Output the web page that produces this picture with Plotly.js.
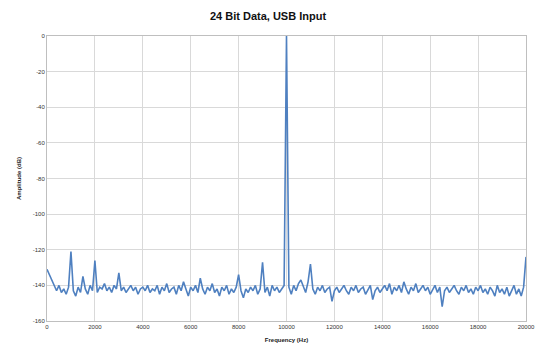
<!DOCTYPE html>
<html>
<head>
<meta charset="utf-8">
<script src="https://cdn.plot.ly/plotly-3.0.1.min.js"></script>
<style>html,body{margin:0;padding:0;background:#fff}#chart{width:536px;height:356px}</style>
</head>
<body>
<div id="chart"></div>
<script>
const frequencyHz = [
0,100,200,300,400,500,600,700,800,900,
1000,1100,1200,1300,1400,1500,1600,1700,1800,1900,
2000,2100,2200,2300,2400,2500,2600,2700,2800,2900,
3000,3100,3200,3300,3400,3500,3600,3700,3800,3900,
4000,4100,4200,4300,4400,4500,4600,4700,4800,4900,
5000,5100,5200,5300,5400,5500,5600,5700,5800,5900,
6000,6100,6200,6300,6400,6500,6600,6700,6800,6900,
7000,7100,7200,7300,7400,7500,7600,7700,7800,7900,
8000,8100,8200,8300,8400,8500,8600,8700,8800,8900,
9000,9100,9200,9300,9400,9500,9600,9700,9800,9900,
10000,10100,10200,10300,10400,10500,10600,10700,10800,10900,
11000,11100,11200,11300,11400,11500,11600,11700,11800,11900,
12000,12100,12200,12300,12400,12500,12600,12700,12800,12900,
13000,13100,13200,13300,13400,13500,13600,13700,13800,13900,
14000,14100,14200,14300,14400,14500,14600,14700,14800,14900,
15000,15100,15200,15300,15400,15500,15600,15700,15800,15900,
16000,16100,16200,16300,16400,16500,16600,16700,16800,16900,
17000,17100,17200,17300,17400,17500,17600,17700,17800,17900,
18000,18100,18200,18300,18400,18500,18600,18700,18800,18900,
19000,19100,19200,19300,19400,19500,19600,19700,19800,19900,
20000];

const amplitudeDb = [
-131,-134,-137.5,-141,-143,-140,-144,-142,-145,-141,
-121,-143,-146,-141,-144,-135,-142,-145,-140,-143,
-126,-144,-141,-142,-139,-143,-141,-144,-140,-142,
-133,-143,-141,-144,-142,-140,-143,-141,-145,-142,
-141,-143,-140,-144,-142,-143,-140,-145,-141,-143,
-139,-144,-142,-141,-145,-140,-143,-138,-142,-146,
-141,-143,-140,-144,-136,-142,-145,-141,-143,-139,
-144,-142,-146,-141,-143,-140,-145,-142,-144,-141,
-134,-143,-147,-142,-144,-141,-143,-140,-145,-142,
-127,-144,-141,-146,-140,-143,-141,-144,-142,-140,
0,-141,-145,-140,-143,-139,-137,-141,-144,-138,
-128,-142,-145,-141,-143,-140,-144,-142,-141,-149,
-143,-141,-144,-142,-140,-143,-145,-141,-143,-140,
-144,-142,-141,-145,-142,-140,-148,-143,-141,-144,
-142,-140,-143,-139,-145,-141,-143,-140,-144,-138,
-142,-145,-141,-143,-139,-144,-142,-140,-143,-141,
-145,-142,-140,-144,-141,-152,-143,-141,-144,-142,
-140,-143,-145,-141,-143,-140,-144,-142,-145,-141,
-143,-140,-144,-142,-145,-141,-143,-146,-140,-144,
-142,-145,-141,-146,-143,-140,-145,-142,-146,-141,
-124];

const xTickValues = [0,2000,4000,6000,8000,10000,12000,14000,16000,18000,20000];
const xTickLabels = ['0','2000','4000','6000','8000','10000','12000','14000','16000','18000','20000'];
const yTickValues = [0,-20,-40,-60,-80,-100,-120,-140,-160];
const yTickLabels = ['0','-20','-40','-60','-80','-100','-120','-140','-160'];

const trace = {
  x: frequencyHz,
  y: amplitudeDb,
  type: 'scatter',
  mode: 'lines',
  line: {color: '#4f80c0', width: 1.6},
  hoverinfo: 'skip'
};

const layout = {
  width: 536,
  height: 356,
  margin: {l: 47, r: 10, t: 36, b: 35},
  paper_bgcolor: '#ffffff',
  plot_bgcolor: '#ffffff',
  showlegend: false,
  font: {family: 'Liberation Sans, Arial, sans-serif', color: '#222'},
  title: {
    text: '<b>24 Bit Data, USB Input</b>',
    font: {size: 11, color: '#111'},
    x: 0.5, xanchor: 'center', y: 0.955, yanchor: 'middle'
  },
  xaxis: {
    range: [0, 20000],
    tickvals: xTickValues,
    ticktext: xTickLabels,
    tickfont: {size: 6, color: '#333'},
    ticklabeloverflow: 'allow',
    showgrid: true,
    gridcolor: '#d9d9d9',
    gridwidth: 1,
    zeroline: false,
    showline: true,
    linecolor: '#bfbfbf',
    mirror: true,
    ticks: '',
    ticklen: 0,
    title: {text: '<b>Frequency (Hz)</b>', font: {size: 6, color: '#222'}, standoff: 8}
  },
  yaxis: {
    range: [-160, 0],
    tickvals: yTickValues,
    ticktext: yTickLabels,
    tickfont: {size: 6, color: '#333'},
    showgrid: true,
    gridcolor: '#d9d9d9',
    gridwidth: 1,
    zeroline: false,
    showline: true,
    linecolor: '#bfbfbf',
    mirror: true,
    ticks: '',
    title: {text: '<b>Amplitude (dB)</b>', font: {size: 6, color: '#222'}, standoff: 10}
  }
};

Plotly.newPlot('chart', [trace], layout, {displayModeBar: false, staticPlot: true});
</script>
</body>
</html>
